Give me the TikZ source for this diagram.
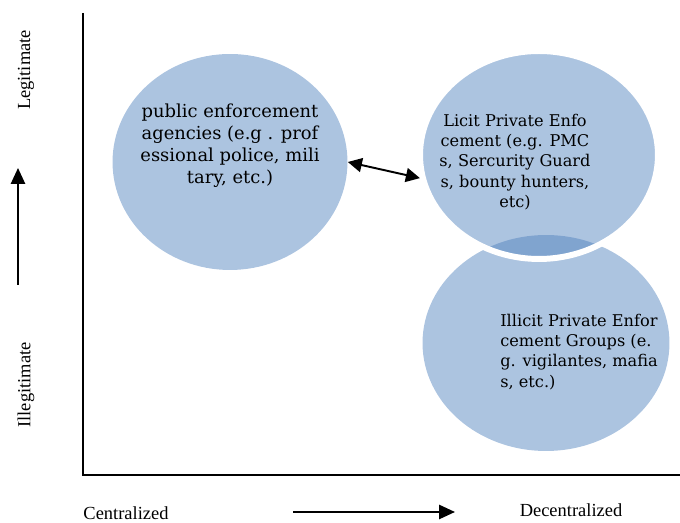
\documentclass[tikz,border=0pt]{standalone}
\usepackage{fontspec}
\setmainfont{Liberation Serif}
\newfontfamily\blobfont{DejaVu Serif}
\usetikzlibrary{shapes.geometric,arrows.meta}
\definecolor{blobblue}{HTML}{4F81BD}

\begin{document}
\begin{tikzpicture}[x=0.02cm,y=0.02cm,
    blob/.style={ellipse,fill=blobblue,fill opacity=0.47,inner sep=0pt},
    blobtext/.style={font=\blobfont\fontsize{9.2}{11.5}\selectfont,inner sep=0pt},
    axislabel/.style={font=\fontsize{10.5}{12}\selectfont,inner sep=0pt},
    bigarrow/.style={line width=1.2pt,-{Triangle[length=9pt,width=8pt]}}]
  \useasboundingbox (0,0) rectangle (680,523);
  % axes
  \coordinate (top) at (83,510);
  \coordinate (origin) at (83,48);
  \coordinate (right) at (680,48);
  \draw[line width=1.2pt] (top)--(origin)--(right);
  % direction arrows
  \coordinate (upstart) at (18,238);
  \coordinate (upend) at (18,355);
  \draw[bigarrow] (upstart)--(upend);
  \coordinate (rightstart) at (293,11);
  \coordinate (rightend) at (455,11);
  \draw[bigarrow] (rightstart)--(rightend);
  \node[axislabel,rotate=90] (legit) at (26,453) {Legitimate};
  \node[axislabel,rotate=90] (illegit) at (26,138) {Illegitimate};
  \node[axislabel] (central) at (126,10) {Centralized};
  \node[axislabel] (decentral) at (571,13) {Decentralized};
  % the three groups
  \node[blob,minimum width=4.7cm,minimum height=4.32cm] (public) at (230,361) {};
  \node[blob,minimum width=4.94cm,minimum height=4.32cm] (illicit) at (546,180) {};
  \node[blob,draw=white,line width=3.4pt,minimum width=4.76cm,minimum height=4.16cm] (licit) at (539,368) {};
  \draw[line width=1.1pt,{Triangle[length=8pt,width=8pt]}-{Triangle[length=8pt,width=8pt]}] (public.east) -- (licit.191);
  \node[blobtext,font=\blobfont\fontsize{10.2}{12.5}\selectfont,align=center] (publictext) at (230,377) {public enforcement\\agencies (e.g . prof\\essional police, mili\\tary, etc.)};
  \node[blobtext,align=center] (licittext) at (515,361) {Licit Private Enfo\\cement (e.g. PMC\\s, Sercurity Guard\\s, bounty hunters,\\etc)};
  \node[blobtext,align=left,anchor=west] (illicittext) at (500,171) {Illicit Private Enfor\\cement Groups (e.\\g. vigilantes, mafia\\s, etc.)};
\end{tikzpicture}
\end{document}
